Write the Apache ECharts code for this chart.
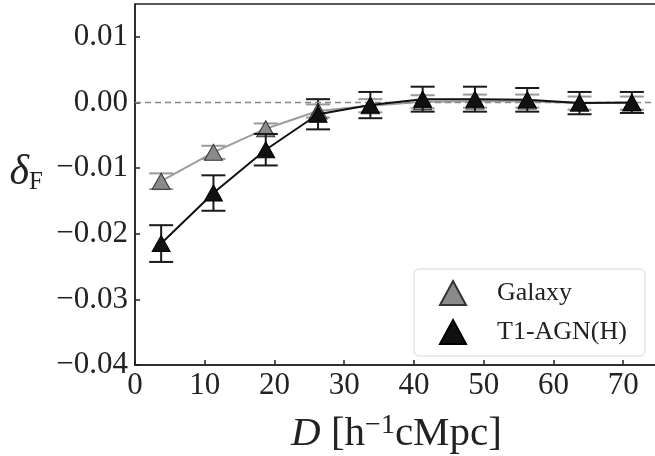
<!DOCTYPE html>
<html>
<head>
<meta charset="utf-8">
<script src="https://cdn.jsdelivr.net/npm/echarts@6/dist/echarts.min.js"></script>
<style>html,body{margin:0;padding:0;background:#fff;}#c{width:655px;height:456px;}</style>
</head>
<body>
<div id="c"></div>
<script>
const distances = [3.75, 11.25, 18.75, 26.25, 33.75, 41.25, 48.75, 56.25, 63.75, 71.25];
const galaxyValues = [-0.0120, -0.0076, -0.0040, -0.0013, -0.0005, 0.0001, 0.0002, 0.0002, -0.0001, -0.0001];
const galaxyErrors = [0.0012, 0.0010, 0.0008, 0.0010, 0.0010, 0.0010, 0.0010, 0.0010, 0.0010, 0.0010];
const agnValues = [-0.0215, -0.0138, -0.0072, -0.0018, -0.0004, 0.0005, 0.0005, 0.0004, -0.0001, 0.0000];
const agnErrors = [0.0028, 0.0027, 0.0024, 0.0023, 0.0020, 0.0019, 0.0019, 0.0018, 0.0017, 0.0016];
const seriesNames = ['Galaxy', 'T1-AGN(H)'];
const xTicks = [0, 10, 20, 30, 40, 50, 60, 70];
const yTicks = [-0.04, -0.03, -0.02, -0.01, 0.00, 0.01];

const serif = '"Liberation Serif", "DejaVu Serif", serif';

function pts(vals) { return distances.map((d, i) => [d, vals[i]]); }
function errData(vals, errs) { return distances.map((d, i) => [d, vals[i] - errs[i], vals[i] + errs[i]]); }

function errRender(color) {
  return function (params, api) {
    const x = api.value(0);
    const lo = api.coord([x, api.value(1)]);
    const hi = api.coord([x, api.value(2)]);
    const cap = 12;
    const style = { stroke: color, lineWidth: 2, fill: null };
    return {
      type: 'group',
      children: [
        { type: 'line', shape: { x1: lo[0], y1: lo[1], x2: hi[0], y2: hi[1] }, style },
        { type: 'line', shape: { x1: lo[0] - cap, y1: lo[1], x2: lo[0] + cap, y2: lo[1] }, style },
        { type: 'line', shape: { x1: hi[0] - cap, y1: hi[1], x2: hi[0] + cap, y2: hi[1] }, style }
      ]
    };
  };
}

const chart = echarts.init(document.getElementById('c'), null, { renderer: 'canvas' });
const option = {
  animation: false,
  backgroundColor: '#fff',
  grid: {
    left: 135, top: 4, right: -3, bottom: 91, show: true,
    borderColor: '#222', borderWidth: 1.5, backgroundColor: 'transparent',
    containLabel: false, outerBoundsMode: 'none'
  },
  xAxis: {
    type: 'value', min: 0, max: 75, interval: 10,
    axisLine: { onZero: false, lineStyle: { color: '#222', width: 1.5 } },
    axisTick: { inside: true, length: 5, lineStyle: { color: '#222', width: 1.5 } },
    splitLine: { show: false },
    axisLabel: {
      showMaxLabel: false, margin: 5, color: '#222', fontFamily: serif, fontSize: 31,
      formatter: v => xTicks.includes(v) ? String(v) : ''
    },
    name: '{i|D} [h{sup|−1}cMpc]',
    nameLocation: 'middle', nameGap: 47,
    nameTextStyle: {
      color: '#222', fontFamily: serif, fontSize: 41,
      rich: {
        i: { fontStyle: 'italic', fontFamily: serif, fontSize: 41, color: '#222' },
        sup: { fontFamily: serif, fontSize: 28, color: '#222', verticalAlign: 'top', padding: [0, 0, 16, 0] }
      }
    }
  },
  yAxis: {
    type: 'value', min: -0.04, max: 0.015, interval: 0.01,
    axisLine: { onZero: false, lineStyle: { color: '#222', width: 1.5 } },
    axisTick: { inside: true, length: 5, lineStyle: { color: '#222', width: 1.5 } },
    splitLine: { show: false },
    axisLabel: {
      showMaxLabel: false, margin: 7, color: '#222', fontFamily: serif, fontSize: 31,
      formatter: v => {
        const t = yTicks.find(k => Math.abs(k - v) < 1e-9);
        if (t === undefined) return '';
        return (t < 0 ? '−' : '') + Math.abs(t).toFixed(2);
      }
    },
    name: '{d|δ}{s|F}',
    nameLocation: 'middle', nameRotate: 0, nameGap: 92,
    nameTextStyle: {
      color: '#222', fontFamily: serif, padding: [0, 0, 24, 0],
      rich: {
        d: { fontStyle: 'italic', fontFamily: serif, fontSize: 42, color: '#222' },
        s: { fontFamily: serif, fontSize: 25, color: '#222', padding: [20, 0, 0, 0] }
      }
    }
  },
  legend: {
    left: 414, top: 269, orient: 'vertical',
    data: seriesNames,
    icon: 'triangle', itemWidth: 26, itemHeight: 24, itemGap: 13,
    padding: [11, 18, 11, 25],
    backgroundColor: '#fff', borderColor: '#d8d8d8', borderWidth: 1, borderRadius: 5,
    textStyle: { fontFamily: serif, fontSize: 26, color: '#222', padding: [0, 0, 0, 26] }
  },
  series: [
    {
      name: 'GalaxyErr', type: 'custom', renderItem: errRender('#9a9a9a'),
      data: errData(galaxyValues, galaxyErrors), z: 2, silent: true,
      encode: { x: 0, y: [1, 2] }
    },
    {
      name: 'Galaxy', type: 'line', data: pts(galaxyValues), z: 3,
      lineStyle: { color: '#9d9d9d', width: 2 },
      symbol: 'triangle', symbolSize: [18, 16],
      itemStyle: { color: '#8a8a8a', borderColor: '#333', borderWidth: 1 },
      markLine: {
        silent: true, symbol: 'none', label: { show: false },
        lineStyle: { color: '#888', type: [6, 4], width: 1.3 },
        data: [{ yAxis: 0 }]
      }
    },
    {
      name: 'AGNErr', type: 'custom', renderItem: errRender('#1a1a1a'),
      data: errData(agnValues, agnErrors), z: 4, silent: true,
      encode: { x: 0, y: [1, 2] }
    },
    {
      name: 'T1-AGN(H)', type: 'line', data: pts(agnValues), z: 5,
      lineStyle: { color: '#111', width: 2 },
      symbol: 'triangle', symbolSize: [18, 16],
      itemStyle: { color: '#111', borderColor: '#000', borderWidth: 1 }
    }
  ]
};
chart.setOption(option);
</script>
</body>
</html>
